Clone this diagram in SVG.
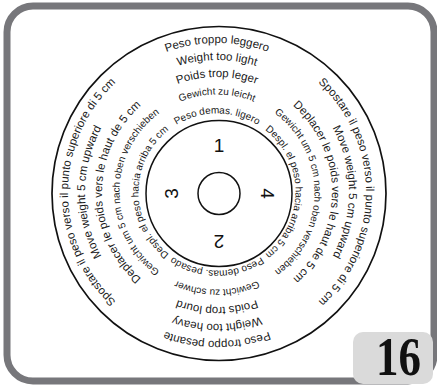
<svg xmlns="http://www.w3.org/2000/svg" xmlns:xlink="http://www.w3.org/1999/xlink" width="437" height="387" viewBox="0 0 437 387">
<style>
.ring{fill:none;stroke:#111;stroke-width:1.5}
.big{font-family:"Liberation Sans",Arial,sans-serif;font-size:11.5px;fill:#1a1a1a}
.small{font-family:"Liberation Sans",Arial,sans-serif;font-size:10px;fill:#1a1a1a}
.num{font-family:"Liberation Sans",Arial,sans-serif;font-size:19px;fill:#111;text-anchor:middle}
</style>
<defs>
<path id="r1" d="M68,192 A149,149 0 0 1 366,192"/>
<path id="r2" d="M85,192 A132,132 0 0 1 349,192"/>
<path id="r3" d="M102,192 A115,115 0 0 1 332,192"/>
<path id="r4" d="M119.5,192 A97.5,97.5 0 0 1 314.5,192"/>
<path id="r5" d="M138.5,192 A78.5,78.5 0 0 1 295.5,192"/>
</defs>
<rect width="437" height="387" fill="#fff"/>
<g id="frame">
<rect x="7" y="6" width="427" height="375" rx="26" fill="none" stroke="#77777b" stroke-width="7"/>
</g>
<g id="dial">
<circle class="ring" cx="219" cy="193.5" r="167" style="stroke-width:1.7"/>
<circle class="ring" cx="219" cy="193.5" r="73"/>
<circle class="ring" cx="219" cy="193.5" r="21"/>
</g>
<g id="top-labels">
<text class="big"><textPath xlink:href="#r1" href="#r1" startOffset="50%" text-anchor="middle">Peso troppo leggero</textPath></text>
<text class="big"><textPath xlink:href="#r2" href="#r2" startOffset="50%" text-anchor="middle">Weight too light</textPath></text>
<text class="big"><textPath xlink:href="#r3" href="#r3" startOffset="50%" text-anchor="middle">Poids trop leger</textPath></text>
<text class="small"><textPath xlink:href="#r4" href="#r4" startOffset="50%" text-anchor="middle">Gewicht zu leicht</textPath></text>
<text class="small"><textPath xlink:href="#r5" href="#r5" startOffset="50%" text-anchor="middle">Peso demas. ligero</textPath></text>
</g>
<g id="right-labels" transform="rotate(90 217 192)">
<text class="big"><textPath xlink:href="#r1" href="#r1" startOffset="50%" text-anchor="middle">Spostare il peso verso il punto superiore di 5 cm</textPath></text>
<text class="big"><textPath xlink:href="#r2" href="#r2" startOffset="50%" text-anchor="middle">Move weight 5 cm upward</textPath></text>
<text class="big"><textPath xlink:href="#r3" href="#r3" startOffset="50%" text-anchor="middle">Deplacer le poids vers le haut de 5 cm</textPath></text>
<text class="small"><textPath xlink:href="#r4" href="#r4" startOffset="50%" text-anchor="middle">Gewicht um 5 cm nach oben verschieben</textPath></text>
<text class="small"><textPath xlink:href="#r5" href="#r5" startOffset="50%" text-anchor="middle">Despl. el peso hacia arriba 5 cm</textPath></text>
</g>
<g id="bottom-labels" transform="rotate(180 217 192)">
<text class="big"><textPath xlink:href="#r1" href="#r1" startOffset="50%" text-anchor="middle">Peso troppo pesante</textPath></text>
<text class="big"><textPath xlink:href="#r2" href="#r2" startOffset="50%" text-anchor="middle">Weight too heavy</textPath></text>
<text class="big"><textPath xlink:href="#r3" href="#r3" startOffset="50%" text-anchor="middle">Poids trop lourd</textPath></text>
<text class="small"><textPath xlink:href="#r4" href="#r4" startOffset="50%" text-anchor="middle">Gewicht zu schwer</textPath></text>
<text class="small"><textPath xlink:href="#r5" href="#r5" startOffset="50%" text-anchor="middle">Peso demas. pesado</textPath></text>
</g>
<g id="left-labels" transform="rotate(270 217 192)">
<text class="big"><textPath xlink:href="#r1" href="#r1" startOffset="50%" text-anchor="middle">Spostare il peso verso il punto superiore di 5 cm</textPath></text>
<text class="big"><textPath xlink:href="#r2" href="#r2" startOffset="50%" text-anchor="middle">Move weight 5 cm upward</textPath></text>
<text class="big"><textPath xlink:href="#r3" href="#r3" startOffset="50%" text-anchor="middle">Deplacer le poids vers le haut de 5 cm</textPath></text>
<text class="small"><textPath xlink:href="#r4" href="#r4" startOffset="50%" text-anchor="middle">Gewicht um 5 cm nach oben verschieben</textPath></text>
<text class="small"><textPath xlink:href="#r5" href="#r5" startOffset="50%" text-anchor="middle">Despl. el peso hacia arriba 5 cm</textPath></text>
</g>
<g id="numbers">
<text class="num" x="219" y="152">1</text>
<text class="num" x="219" y="152" transform="rotate(90 219 193.5)">4</text>
<text class="num" x="219" y="152" transform="rotate(180 219 193.5)">2</text>
<text class="num" x="219" y="152" transform="rotate(270 219 193.5)">3</text>
</g>
<g id="page-number">
<rect x="353" y="332" width="80" height="52" rx="10" fill="#dadada"/>
<text x="376" y="375" font-family="'Liberation Serif','Times New Roman',serif" font-weight="bold" font-size="54" textLength="45" lengthAdjust="spacingAndGlyphs" fill="#111">16</text>
</g>
</svg>
